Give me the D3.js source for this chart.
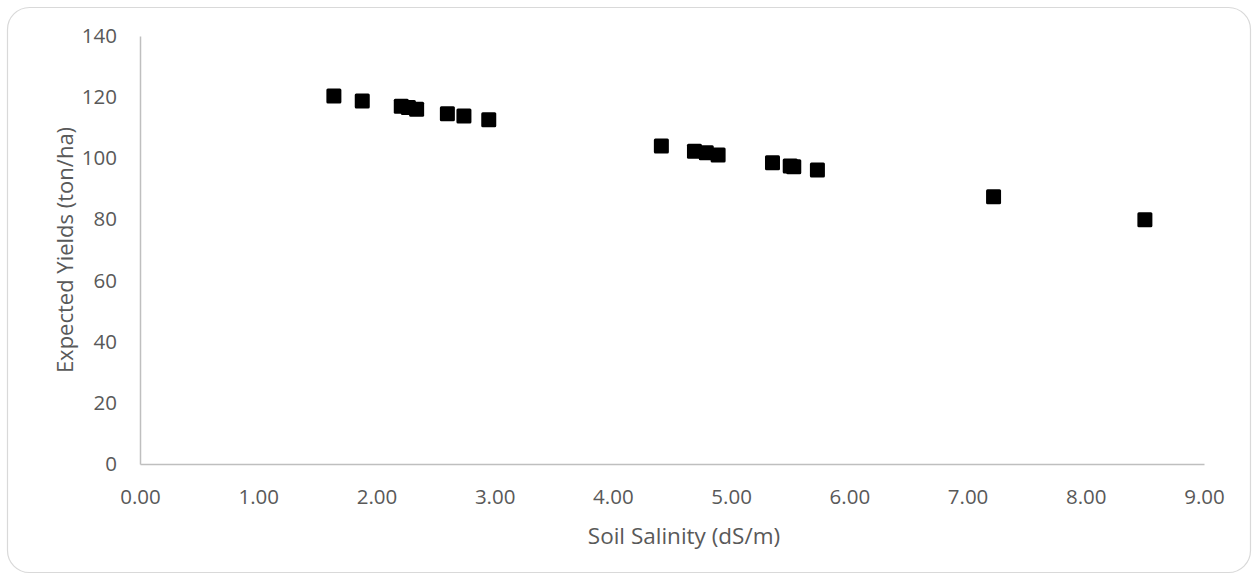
<!DOCTYPE html>
<html>
<head>
<meta charset="utf-8">
<script src="https://cdn.jsdelivr.net/npm/d3@7"></script>
<style>
  html, body { margin: 0; padding: 0; background: #fff; }
  svg text { font-family: "Open Sans", "Noto Sans", sans-serif; fill: #595959; }
</style>
</head>
<body>
<svg id="chart" width="1253" height="581"></svg>
<script>
// Soil salinity (dS/m) against expected yield (ton/ha)
const salinity = [1.64, 1.88, 2.21, 2.27, 2.34, 2.60, 2.74, 2.95, 4.41, 4.69, 4.79, 4.89, 5.35, 5.50, 5.53, 5.73, 7.22, 8.50];
const yields   = [120.4, 118.7, 117.0, 116.6, 116.0, 114.6, 113.8, 112.6, 104.0, 102.3, 101.8, 101.1, 98.5, 97.5, 97.2, 96.2, 87.4, 79.9];
const xTicks = [0, 1, 2, 3, 4, 5, 6, 7, 8, 9];
const yTicks = [0, 20, 40, 60, 80, 100, 120, 140];
const xTitle = "Soil Salinity (dS/m)";
const yTitle = "Expected Yields (ton/ha)";

const svg = d3.select("#chart");

// outer chart frame
svg.append("rect")
  .attr("x", 7.5).attr("y", 7.5)
  .attr("width", 1243).attr("height", 565)
  .attr("rx", 22).attr("ry", 22)
  .attr("fill", "#fff").attr("stroke", "#d9d9d9").attr("stroke-width", 1.2);

const x = d3.scaleLinear().domain([0, 9]).range([140, 1204]);
const y = d3.scaleLinear().domain([0, 140]).range([464, 36]);

// x axis
const xAxis = svg.append("g")
  .attr("transform", `translate(0,${y(0)})`)
  .call(d3.axisBottom(x).tickValues(xTicks).tickFormat(d3.format(".2f")).tickSize(0).tickPadding(25));
xAxis.select(".domain").attr("stroke", "#bfbfbf").attr("stroke-width", 1.5);
xAxis.selectAll("text").attr("font-size", 20.5).style("fill", "#595959");

// y axis
const yAxis = svg.append("g")
  .attr("transform", `translate(${x(0)},0)`)
  .call(d3.axisLeft(y).tickValues(yTicks).tickFormat(d3.format("d")).tickSize(0).tickPadding(23));
yAxis.select(".domain").attr("stroke", "#bfbfbf").attr("stroke-width", 1.5);
yAxis.selectAll("text").attr("font-size", 20.5).style("fill", "#595959");

// axis titles
svg.append("text")
  .attr("x", 684).attr("y", 544)
  .attr("text-anchor", "middle")
  .attr("font-size", 22.5)
  .text(xTitle);

svg.append("text")
  .attr("transform", `translate(73,250) rotate(-90)`)
  .attr("text-anchor", "middle")
  .attr("font-size", 22)
  .text(yTitle);

// square markers
const size = 15;
svg.append("g")
  .selectAll("rect")
  .data(salinity.map((s, i) => ({ s, v: yields[i] })))
  .join("rect")
  .attr("x", d => x(d.s) - size / 2)
  .attr("y", d => y(d.v) - size / 2)
  .attr("width", size).attr("height", size)
  .attr("rx", 1.5)
  .attr("fill", "#000");
</script>
</body>
</html>
